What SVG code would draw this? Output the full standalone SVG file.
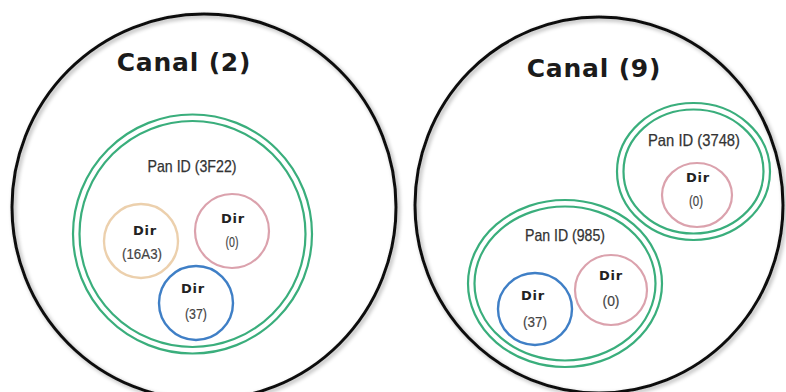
<svg xmlns="http://www.w3.org/2000/svg" width="786" height="392" viewBox="0 0 786 392">
  <style>
    .canal { fill: none; stroke: #111; stroke-width: 3; }
    .pan { fill: none; stroke: #3aae7c; stroke-width: 2.2; }
    .dir-tan { fill: none; stroke: #ecd0ad; stroke-width: 2.4; }
    .dir-pink { fill: none; stroke: #dba2ad; stroke-width: 2.2; }
    .dir-blue { fill: none; stroke: #3f7fc6; stroke-width: 2.4; }
    .title { font-family: "DejaVu Sans", Verdana, sans-serif; font-weight: bold; font-size: 25px; fill: #1b1b1b; letter-spacing: 0.8px; text-anchor: middle; }
    .panlbl { font-family: "Liberation Sans", Arial, sans-serif; font-size: 16.5px; fill: #333; stroke: #333; stroke-width: 0.25; text-anchor: middle; }
    .dir { font-family: "DejaVu Sans", Verdana, sans-serif; font-weight: bold; font-size: 13px; fill: #222; letter-spacing: 0.8px; text-anchor: middle; }
    .addr { font-family: "Liberation Sans", Arial, sans-serif; font-size: 15.5px; fill: #444; stroke: #444; stroke-width: 0.2; text-anchor: middle; }
  </style>
  <defs>
    <filter id="shadow" x="-10%" y="-10%" width="120%" height="120%">
      <feGaussianBlur in="SourceAlpha" stdDeviation="2"/>
      <feOffset dx="2" dy="2" result="b"/>
      <feComponentTransfer><feFuncA type="linear" slope="0.35"/></feComponentTransfer>
      <feMerge><feMergeNode/><feMergeNode in="SourceGraphic"/></feMerge>
    </filter>
  </defs>
  <rect width="786" height="392" fill="#fff"/>

  <!-- Channel 2 -->
  <g id="canal-2">
    <ellipse class="canal" cx="204" cy="207" rx="192" ry="193" filter="url(#shadow)"/>
    <text class="title" x="184" y="71">Canal (2)</text>
  </g>
  <g id="pan-3F22">
    <circle class="pan" cx="192.5" cy="234" r="119.5"/>
    <circle class="pan" cx="192.5" cy="234" r="113"/>
    <text class="panlbl" x="192" y="172" textLength="89" lengthAdjust="spacingAndGlyphs">Pan ID (3F22)</text>
  </g>
  <g id="dir-16A3">
    <circle class="dir-tan" cx="141" cy="241" r="37"/>
    <text class="dir" x="145" y="235">Dir</text>
    <text class="addr" x="142" y="259" textLength="40" lengthAdjust="spacingAndGlyphs">(16A3)</text>
  </g>
  <g id="dir-0-a">
    <circle class="dir-pink" cx="232" cy="231" r="37"/>
    <text class="dir" x="233" y="223">Dir</text>
    <text class="addr" x="232" y="247" textLength="13" lengthAdjust="spacingAndGlyphs">(0)</text>
  </g>
  <g id="dir-37-a">
    <circle class="dir-blue" cx="196" cy="303" r="37"/>
    <text class="dir" x="193" y="293">Dir</text>
    <text class="addr" x="196" y="319" textLength="22" lengthAdjust="spacingAndGlyphs">(37)</text>
  </g>

  <!-- Channel 9 -->
  <g id="canal-9">
    <ellipse class="canal" cx="599" cy="205" rx="184" ry="188" filter="url(#shadow)"/>
    <text class="title" x="594" y="77">Canal (9)</text>
  </g>
  <g id="pan-3748">
    <ellipse class="pan" cx="693.5" cy="171.5" rx="76.5" ry="68.5"/>
    <ellipse class="pan" cx="693.5" cy="171.5" rx="70" ry="62"/>
    <text class="panlbl" x="694" y="146" textLength="92" lengthAdjust="spacingAndGlyphs">Pan ID (3748)</text>
  </g>
  <g id="dir-0-b">
    <ellipse class="dir-pink" cx="697" cy="195" rx="35" ry="32"/>
    <text class="dir" x="698" y="182">Dir</text>
    <text class="addr" x="696" y="206" textLength="14" lengthAdjust="spacingAndGlyphs">(0)</text>
  </g>
  <g id="pan-985">
    <ellipse class="pan" cx="565" cy="283.5" rx="97" ry="83.5"/>
    <ellipse class="pan" cx="565" cy="283.5" rx="90.5" ry="77"/>
    <text class="panlbl" x="565" y="241" textLength="80" lengthAdjust="spacingAndGlyphs">Pan ID (985)</text>
  </g>
  <g id="dir-37-b">
    <ellipse class="dir-blue" cx="535" cy="309" rx="37" ry="36"/>
    <text class="dir" x="533" y="300">Dir</text>
    <text class="addr" x="535" y="327" textLength="24" lengthAdjust="spacingAndGlyphs">(37)</text>
  </g>
  <g id="dir-0-c">
    <ellipse class="dir-pink" cx="611" cy="290" rx="36" ry="35"/>
    <text class="dir" x="611" y="280">Dir</text>
    <text class="addr" x="611" y="306" textLength="17" lengthAdjust="spacingAndGlyphs">(0)</text>
  </g>

  <!-- no connectors in this diagram -->
  <g id="connectors"/>
</svg>
